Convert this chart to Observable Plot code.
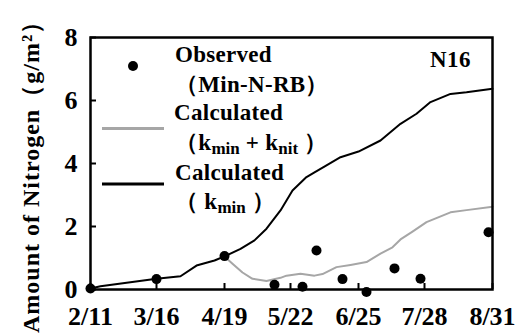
<!DOCTYPE html>
<html><head><meta charset="utf-8">
<script src="https://cdn.jsdelivr.net/npm/d3@7"></script>
<script src="https://cdn.jsdelivr.net/npm/@observablehq/plot@0.6"></script>
<style>
html,body{margin:0;padding:0;background:#fff;}
svg{display:block;}
svg text, svg tspan{font-family:"Liberation Serif" !important;font-weight:bold;}
</style></head><body><div id="chart"></div>
<script>
// ---- data ----
const xTickLabels = ["2/11","3/16","4/19","5/22","6/25","7/28","8/31"];
const yTicks = [0, 2, 4, 6, 8];

const obsDates  = ["2/11","3/16","4/19","5/14","5/28","6/4","6/17","6/29","7/13","7/26","8/29"];
const obsValues = [0.03, 0.33, 1.06, 0.15, 0.09, 1.24, 0.33, -0.08, 0.67, 0.34, 1.82];

const kminDates  = ["2/11","2/16","3/16","3/28","4/5","4/14","4/19","4/27","5/4","5/10","5/17","5/23","5/30","6/3","6/9","6/16","6/25","7/6","7/16","7/24","7/31","8/10","8/18","8/31"];
const kminValues = [0.03, 0.10, 0.34, 0.42, 0.76, 0.92, 1.05, 1.29, 1.56, 1.93, 2.51, 3.14, 3.57, 3.72, 3.94, 4.20, 4.38, 4.73, 5.26, 5.58, 5.95, 6.21, 6.26, 6.37];

const knitDates  = ["4/19","4/23","4/28","5/3","5/10","5/17","5/20","5/27","6/3","6/7","6/14","6/21","6/29","7/6","7/12","7/16","7/22","7/29","8/10","8/18","8/31"];
const knitValues = [1.05, 0.82, 0.54, 0.34, 0.27, 0.37, 0.44, 0.50, 0.44, 0.49, 0.71, 0.78, 0.87, 1.14, 1.34, 1.59, 1.84, 2.14, 2.45, 2.52, 2.63];

// ---- helpers ----
const parse = s => { const [m, d] = s.split("/").map(Number); return new Date(Date.UTC(2001, m - 1, d)); };
const fmt = d => `${d.getUTCMonth() + 1}/${d.getUTCDate()}`;
const zip = (ds, vs) => ds.map((d, i) => ({date: parse(d), value: vs[i]}));

const obs = zip(obsDates, obsValues);
const kmin = zip(kminDates, kminValues);
const knit = zip(knitDates, knitValues);
const xTickDates = xTickLabels.map(parse);

const FONT = "Liberation Serif";
const GRAY = "#a6a6a6";

const plot = Plot.plot({
  width: 515, height: 334,
  marginLeft: 90, marginRight: 23, marginTop: 37, marginBottom: 45,
  style: {background: "#fff", color: "#000"},
  x: {type: "utc", domain: [xTickDates[0], xTickDates[xTickDates.length - 1]], ticks: xTickDates, tickFormat: fmt, tickSize: 0, tickPadding: 17, label: null},
  y: {domain: [0, 8], ticks: yTicks, tickSize: 0, tickPadding: 13, label: null},
  marks: [
    Plot.ruleX(xTickDates, {stroke: "#000", strokeWidth: 2, insetTop: 246}),
    Plot.ruleY(yTicks, {stroke: "#000", strokeWidth: 2, insetRight: 396}),
    Plot.line(kmin, {x: "date", y: "value", stroke: "#000", strokeWidth: 2}),
    Plot.line(knit, {x: "date", y: "value", stroke: GRAY, strokeWidth: 2}),
    Plot.dot(obs, {x: "date", y: "value", r: 5, fill: "#000", stroke: null}),
    Plot.frame({stroke: "#000", strokeWidth: 2.5})
  ]
});
document.getElementById("chart").appendChild(plot);
const svg = d3.select(plot);
svg.attr("font-family", FONT).attr("font-size", 26).attr("font-weight", "bold").style("overflow", "visible");
svg.selectAll("g[aria-label$='axis'], g[aria-label*='tick']").attr("font-size", 26).attr("font-family", FONT).attr("font-variant", null).style("font-variant", null);

// ---- legend, panel label and axis title ----
const g = svg.append("g").attr("fill", "#000").attr("text-anchor", "start")
  .attr("font-family", FONT).attr("font-weight", "bold");

// y axis title
const yt = g.append("text")
  .attr("transform", "translate(39,333) rotate(-90)")
  .attr("font-size", 24).attr("letter-spacing", 1).attr("text-anchor", "start");
yt.append("tspan").text("Amount of Nitrogen");
yt.append("tspan").text("（g/m²）");

// panel label
g.append("text").attr("x", 430).attr("y", 67).attr("font-size", 23).attr("letter-spacing", 0.5).text("N16");

// legend symbols
g.append("circle").attr("cx", 133).attr("cy", 66).attr("r", 5).attr("fill", "#000");
g.append("line").attr("x1", 102).attr("x2", 164).attr("y1", 128.5).attr("y2", 128.5).attr("stroke", GRAY).attr("stroke-width", 3);
g.append("line").attr("x1", 102).attr("x2", 164).attr("y1", 184).attr("y2", 184).attr("stroke", "#000").attr("stroke-width", 3);

const legText = (x, y, parts) => {
  const t = g.append("text").attr("x", x).attr("y", y).attr("font-size", 23).attr("letter-spacing", 0.3);
  parts.forEach(p => {
    const s = t.append("tspan").text(p.t);
    if (p.sub) s.attr("font-size", 17).attr("dy", 4).attr("letter-spacing", 0);
    if (p.back) s.attr("dy", -4);
  });
  return t;
};
legText(175, 62, [{t: "Observed"}]);
legText(175, 92, [{t: "（Min-N-RB）"}]);
legText(174, 120, [{t: "Calculated"}]);
legText(175, 150, [{t: "（k"}, {t: "min", sub: true}, {t: " + k", back: true}, {t: "nit", sub: true}, {t: " ）", back: true}]);
legText(175, 180, [{t: "Calculated"}]);
legText(175, 209, [{t: "（ k"}, {t: "min", sub: true}, {t: " ）", back: true}]);

svg.selectAll("text, tspan").attr("font-family", FONT).style("font-family", FONT);
</script>
</body></html>
